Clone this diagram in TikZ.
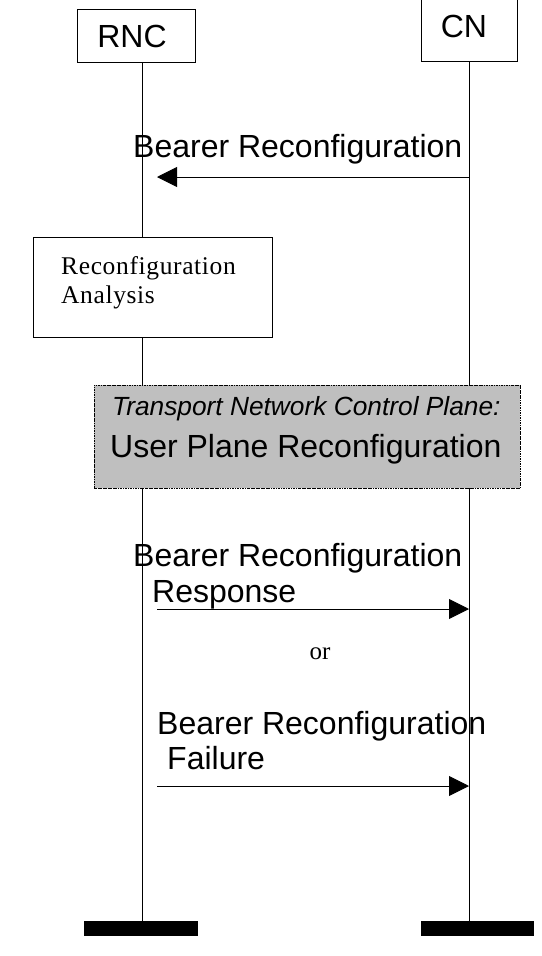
\documentclass[tikz,border=0pt]{standalone}
\usepackage{fontspec}
\setmainfont{Liberation Sans}
\newfontfamily\seriffont{Liberation Serif}
\newfontfamily\spacedserif[LetterSpace=2.5]{Liberation Serif}
\usetikzlibrary{arrows.meta}
\begin{document}
\begin{tikzpicture}[x=1pt,y=-1pt,
  line/.style={draw=black,line width=0.9pt},
  msg/.style={line,-{Triangle[length=20pt,width=20pt]}},
  entity/.style={draw=black,line width=0.9pt,fill=white,inner sep=0pt},
  big/.style={font=\fontsize{32}{36}\selectfont,inner sep=0pt},
  small/.style={font=\seriffont\fontsize{25}{29}\selectfont,inner sep=0pt},
  spaced/.style={font=\spacedserif\fontsize{25.5}{29}\selectfont,inner sep=0pt},
  bar/.style={fill=black,inner sep=0pt}]
\useasboundingbox (0,0) rectangle (541,956);
% end bars
\node[bar,minimum width=114pt,minimum height=15pt] (rncbar) at (141,928.5) {};
\node[bar,minimum width=113pt,minimum height=15pt] (cnbar) at (477.5,928.5) {};
% lifelines
\coordinate (rnctop) at (142,62);
\coordinate (cntop) at (469,61);
\draw[line] (rnctop) -- (rnctop |- rncbar.north);
\draw[line] (cntop) -- (cntop |- cnbar.north);
% entity boxes
\node[entity,minimum width=118pt,minimum height=53pt] (rnc) at (136,35.5) {};
\node[big,anchor=base] (rnclabel) at (132,47) {RNC};
\node[entity,minimum width=96pt,minimum height=64pt] (cn) at (469,29) {};
\node[big,anchor=base] (cnlabel) at (464,37) {CN};
% message 1
\coordinate (m1s) at (cntop |- 0,177);
\coordinate (m1e) at (157,177);
\draw[msg] (m1s) -- (m1e);
\node[big,anchor=base west] (m1label) at (133,157) {Bearer Reconfiguration};
% analysis box
\node[entity,minimum width=239pt,minimum height=100pt] (analysis) at (152.5,287) {};
\node[spaced,anchor=base west] (an1) at (61,274) {Reconfiguration};
\node[spaced,anchor=base west] (an2) at (61,303) {Analysis};
% TNCP box
\node[draw=black,line width=0.9pt,fill=black!25,
  dash pattern=on 2.5pt off 1pt on 0.6pt off 1pt,
  minimum width=426pt,minimum height=103pt,inner sep=0pt] (tncp) at (307,436.5) {};
\node[big,font=\itshape\fontsize{26.3}{30}\selectfont,anchor=base west] (tn1) at (112,415) {Transport Network Control Plane:};
\node[big,anchor=base west] (tn2) at (110,457) {User Plane Reconfiguration};
% response
\coordinate (m2s) at (157,609);
\coordinate (m2e) at (cntop |- 0,609);
\draw[msg] (m2s) -- (m2e);
\node[big,anchor=base west] (m2l1) at (133,566) {Bearer Reconfiguration};
\node[big,anchor=base west] (m2l2) at (152,602) {Response};
\node[small,anchor=base] (or) at (320,659) {or};
% failure
\coordinate (m3s) at (157,786);
\coordinate (m3e) at (cntop |- 0,786);
\draw[msg] (m3s) -- (m3e);
\node[big,anchor=base west] (m3l1) at (157,734) {Bearer Reconfiguration};
\node[big,anchor=base west] (m3l2) at (167,769) {Failure};
\end{tikzpicture}
\end{document}
